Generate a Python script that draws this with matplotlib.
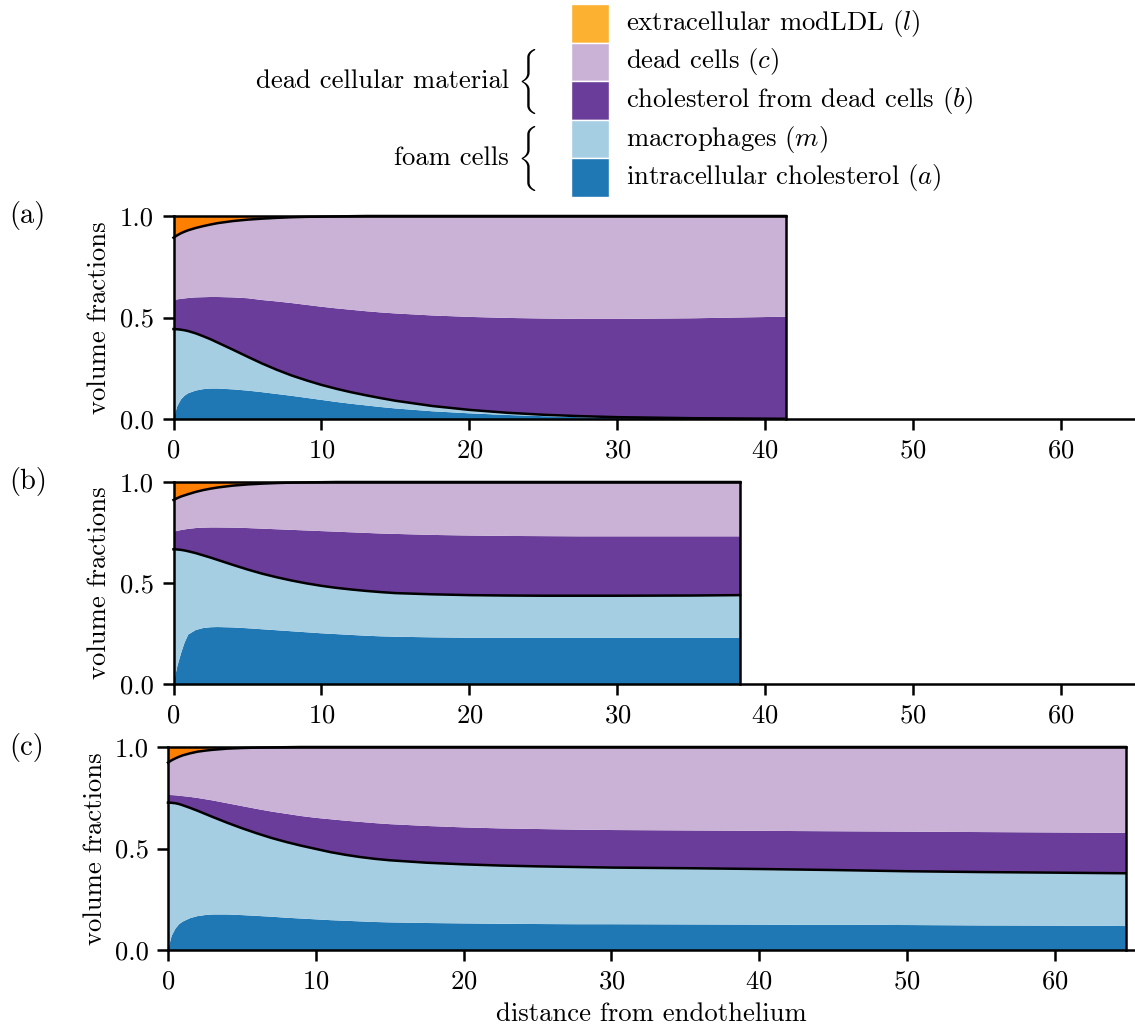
import os
import numpy as np
import matplotlib
matplotlib.use('Agg')
import matplotlib.pyplot as plt
from matplotlib.patches import Rectangle
from matplotlib.font_manager import FontProperties

plt.rcParams.update({
    'font.family': ['cmr10', 'DejaVu Serif'],
    'mathtext.fontset': 'cm',
    'axes.formatter.use_mathtext': True,
    'font.size': 19.2,
})

# cumulative volume fractions (top of each stacked species), three cases
# a: intracellular cholesterol, m: macrophages, b: cholesterol from dead cells,
# c: dead cells; extracellular modLDL fills the rest up to 1
x_a = [0, .25, .5, .75, 1, 1.5, 2, 2.5, 3, 4, 5, 6, 7, 8, 9, 10, 11, 12, 13, 14, 15,
       17.5, 20, 22.5, 25, 27.5, 30, 35, 41.4]
a_top_a = [0, .062, .096, .115, .127, .14, .147, .15, .15, .146, .14, .132, .123, .114, .104,
           .094, .084, .075, .067, .059, .052, .038, .028, .02, .014, .009, .006, .002, 0]
am_top_a = [.443, .442, .44, .437, .433, .422, .408, .393, .376, .342, .307, .273, .242, .214,
            .19, .168, .149, .132, .117, .103, .09, .064, .045, .031, .021, .014, .009, .004, .001]
amb_top_a = [.586, .589, .592, .594, .596, .599, .6, .601, .601, .599, .595, .586, .579, .571,
             .562, .553, .545, .538, .531, .525, .52, .51, .503, .498, .495, .493, .493, .496, .504]
ambc_top_a = [.893, .905, .915, .923, .93, .941, .95, .958, .965, .975, .982, .987, .991, .994,
              .996, .997, .998, .999, 1, 1, 1, 1, 1, 1, 1, 1, 1, 1, 1]

x_b = [0, .25, .5, .75, 1, 1.5, 2, 2.5, 3, 4, 5, 6, 7, 8, 9, 10, 11, 12, 13, 14, 15,
       17.5, 20, 22.5, 25, 27.5, 30, 35, 38.3]
a_top_b = [0, .085, .15, .205, .245, .267, .277, .281, .282, .28, .276, .271, .266, .261, .256,
           .251, .247, .243, .239, .236, .234, .231, .229, .228, .228, .228, .228, .228, .228]
am_top_b = [.667, .666, .664, .661, .657, .648, .637, .626, .614, .59, .567, .546, .528, .512,
            .498, .486, .476, .468, .461, .455, .45, .444, .44, .438, .437, .437, .437, .438, .44]
amb_top_b = [.754, .758, .762, .765, .768, .772, .774, .775, .775, .774, .772, .769, .766, .763,
             .76, .757, .754, .751, .748, .745, .743, .738, .735, .733, .732, .731, .731, .731, .731]
ambc_top_b = [.911, .92, .928, .934, .94, .951, .96, .967, .973, .982, .988, .992, .995, .997,
              .998, .999, 1, 1, 1, 1, 1, 1, 1, 1, 1, 1, 1, 1, 1]

x_c = [0, .25, .5, .75, 1, 1.5, 2, 2.5, 3, 4, 5, 6, 7, 8, 9, 10, 11, 12, 13, 14, 15,
       17.5, 20, 22.5, 25, 27.5, 30, 35, 40, 45, 50, 55, 60, 64.8]
a_top_c = [0, .07, .105, .127, .14, .157, .167, .172, .175, .175, .172, .168, .164, .159, .155,
           .151, .147, .144, .141, .138, .136, .133, .131, .129, .128, .127, .127, .126, .125,
           .124, .123, .121, .12, .118]
am_top_c = [.726, .725, .723, .719, .713, .7, .686, .671, .656, .627, .6, .575, .552, .532, .514,
            .498, .482, .469, .458, .449, .442, .43, .422, .416, .412, .409, .406, .403, .399,
            .394, .388, .384, .381, .378]
amb_top_c = [.764, .763, .762, .76, .758, .754, .749, .743, .737, .723, .709, .695, .682, .671,
             .66, .651, .644, .637, .631, .625, .62, .611, .604, .599, .596, .593, .591, .589,
             .587, .585, .583, .581, .579, .577]
ambc_top_c = [.923, .935, .944, .952, .959, .969, .977, .982, .986, .992, .995, .997, .998, .999,
              1, 1, 1, 1, 1, 1, 1, 1, 1, 1, 1, 1, 1, 1, 1, 1, 1, 1, 1, 1]

colors = ['#1f78b4', '#a6cee3', '#6a3d9a', '#cab2d6', '#ff7f00']
legend_colors = ['#1f78b4', '#a6cee3', '#6a3d9a', '#cab2d6', '#fcb130']
labels = ['intracellular cholesterol ($a$)', 'macrophages ($m$)',
          'cholesterol from dead cells ($b$)', 'dead cells ($c$)',
          'extracellular modLDL ($l$)']

W, H = 1135, 1030
fig = plt.figure(figsize=(W / 100, H / 100), dpi=100)


def px_axes(left, top, right, bottom):
    return fig.add_axes([left / W, 1 - bottom / H, (right - left) / W, (bottom - top) / H])


def panel(ax, x, tops, xmax):
    x = np.asarray(x)
    bounds = [np.zeros_like(x)] + [np.asarray(t) for t in tops] + [np.ones_like(x)]
    for lo, hi, col in zip(bounds[:-1], bounds[1:], colors):
        ax.fill_between(x, lo, hi, facecolor=col, lw=0)
    kw = dict(color='k', lw=1.8, clip_on=False, zorder=3)
    ax.plot(x, bounds[2], **kw)
    ax.plot(x, bounds[4], **kw)
    ax.plot(x, bounds[5], **kw)
    ax.plot([x[-1], x[-1]], [0, 1], **kw)
    ax.set_xlim(0, xmax)
    ax.set_ylim(0, 1)
    ax.set_yticks([0, 0.5, 1.0])
    ax.set_yticklabels(['0.0', '0.5', '1.0'])
    ax.set_xticks(range(0, 61, 10))
    for s in ['top', 'right']:
        ax.spines[s].set_visible(False)
    for s in ['left', 'bottom']:
        ax.spines[s].set_linewidth(1.8)
    ax.tick_params(length=8, width=1.8, pad=6)


ax1 = px_axes(173.5, 216, 1135, 419)
panel(ax1, x_a, [a_top_a, am_top_a, amb_top_a, ambc_top_a], 65)
ax2 = px_axes(173.5, 482, 1135, 684)
panel(ax2, x_b, [a_top_b, am_top_b, amb_top_b, ambc_top_b], 65)
ax3 = px_axes(168, 747, 1135, 950)
panel(ax3, x_c, [a_top_c, am_top_c, amb_top_c, ambc_top_c], 65.43)

for tag, ytop in [('(a)', 216), ('(b)', 482), ('(c)', 747)]:
    fig.text(9 / W, 1 - ytop / H, tag, ha='left', va='center', fontsize=20.5)
for xc, yc in [(99, 317.5), (99, 583), (95, 848.5)]:
    fig.text(xc / W, 1 - yc / H, 'volume fractions', rotation=90, ha='center', va='center')
fig.text(651.5 / W, 1 - 1014 / H, 'distance from endothelium', ha='center', va='center')

# legend column drawn in pixel coordinates
leg = fig.add_axes([0, 0, 1, 1], zorder=5)
leg.set_xlim(0, W)
leg.set_ylim(H, 0)
leg.axis('off')
row_h = 38.6
top0 = 4
for i, (col, lab) in enumerate(zip(legend_colors[::-1], labels[::-1])):
    y0 = top0 + i * row_h
    leg.add_patch(Rectangle((571, y0), 38, row_h, facecolor=col, edgecolor='white', lw=1))
    leg.text(626, y0 + row_h / 2, lab, ha='left', va='center')

brace_font = FontProperties(fname=os.path.join(matplotlib.get_data_path(), 'fonts', 'ttf', 'cmex10.ttf'), size=20)
for txt, yc in [('dead cellular material', top0 + 2 * row_h), ('foam cells', top0 + 4 * row_h)]:
    leg.text(509, yc, txt, ha='right', va='center')
    leg.text(528, yc, '\xbd', fontproperties=brace_font, ha='center', va='center')

fig.savefig('out.png', dpi=100)
